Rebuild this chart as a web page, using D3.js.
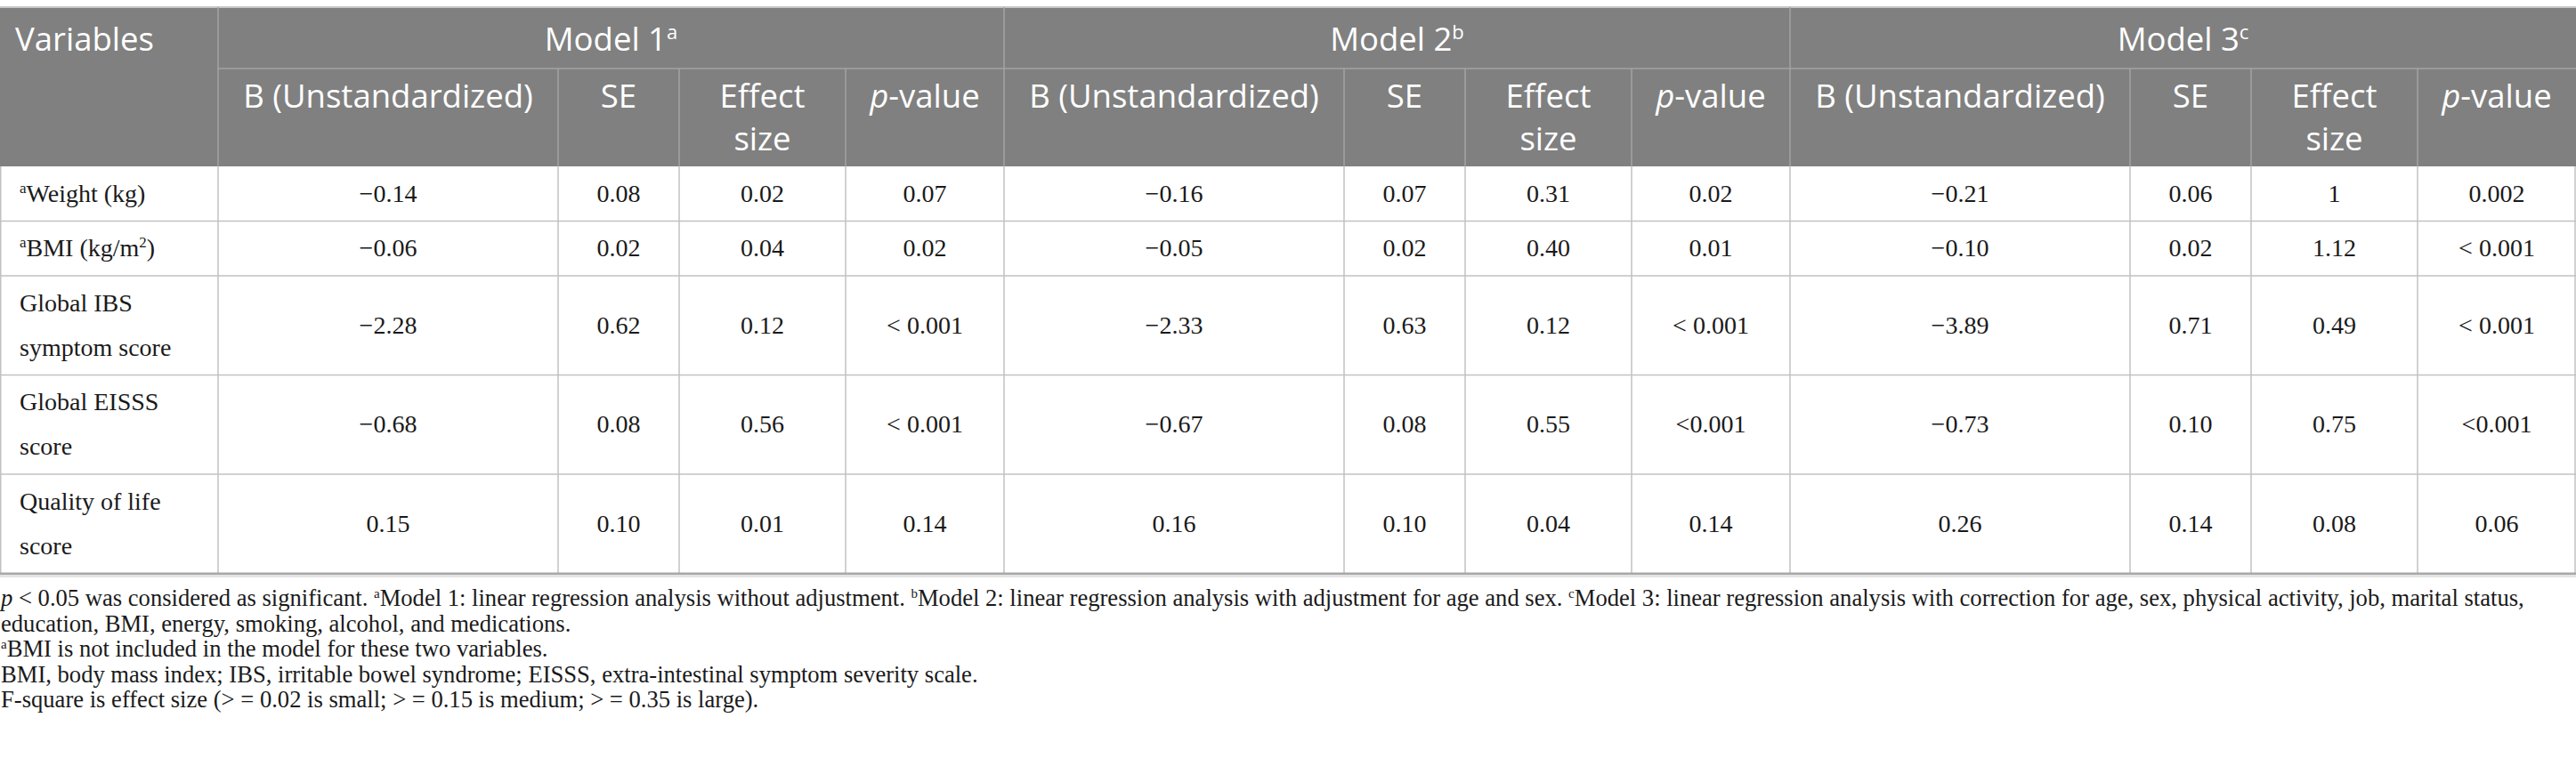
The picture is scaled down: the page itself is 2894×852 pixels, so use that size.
<!DOCTYPE html>
<html>
<head>
<meta charset="utf-8">
<script src="https://cdn.jsdelivr.net/npm/d3@7"></script>
<style>
  body { margin: 0; background: #fff; }
  svg { display: block; }
</style>
</head>
<body>
<div id="chart-area"></div>
<script>
// table content
var models = ["Model 1", "Model 2", "Model 3"];
var modelSup = ["a", "b", "c"];
var subHeads = [["B (Unstandardized)"], ["SE"], ["Effect", "size"], ["p-value"]];

var variables = [["Weight (kg)"], ["BMI (kg/m", "2", ")"], ["Global IBS", "symptom score"], ["Global EISSS", "score"], ["Quality of life", "score"]];
var varSup = ["a", "a", "", "", ""];
var varLines = [1, 1, 2, 2, 2];

var model1B = ["−0.14", "−0.06", "−2.28", "−0.68", "0.15"];
var model1SE = ["0.08", "0.02", "0.62", "0.08", "0.10"];
var model1ES = ["0.02", "0.04", "0.12", "0.56", "0.01"];
var model1P = ["0.07", "0.02", "< 0.001", "< 0.001", "0.14"];

var model2B = ["−0.16", "−0.05", "−2.33", "−0.67", "0.16"];
var model2SE = ["0.07", "0.02", "0.63", "0.08", "0.10"];
var model2ES = ["0.31", "0.40", "0.12", "0.55", "0.04"];
var model2P = ["0.02", "0.01", "< 0.001", "<0.001", "0.14"];

var model3B = ["−0.21", "−0.10", "−3.89", "−0.73", "0.26"];
var model3SE = ["0.06", "0.02", "0.71", "0.10", "0.14"];
var model3ES = ["1", "1.12", "0.49", "0.75", "0.08"];
var model3P = ["0.002", "< 0.001", "< 0.001", "<0.001", "0.06"];

var footnotes = [
	[{t: "p", i: true}, {t: " < 0.05 was considered as significant. "}, {t: "a", s: true}, {t: "Model 1: linear regression analysis without adjustment. "}, {t: "b", s: true}, {t: "Model 2: linear regression analysis with adjustment for age and sex. "}, {t: "c", s: true}, {t: "Model 3: linear regression analysis with correction for age, sex, physical activity, job, marital status,"}],
	[{t: "education, BMI, energy, smoking, alcohol, and medications."}],
	[{t: "a", s: true}, {t: "BMI is not included in the model for these two variables."}],
	[{t: "BMI, body mass index; IBS, irritable bowel syndrome; EISSS, extra-intestinal symptom severity scale."}],
	[{t: "F-square is effect size (> = 0.02 is small; > = 0.15 is medium; > = 0.35 is large)."}]
];

var cells = [
	[model1B, model1SE, model1ES, model1P],
	[model2B, model2SE, model2ES, model2P],
	[model3B, model3SE, model3ES, model3P]
];

// layout
var width = 2894, height = 852;
var varW = 245;
var subW = [382, 136, 187, 178];
var modelW = d3.sum(subW);
var top0 = 8, head1 = 77, head2 = 187;
var lineH = 50, oneRow = 61.5, twoRow = 111.5;

var headBg = "#808080", headLine = "#a3a3a3", bodyLine = "#c2c2c2";
var sansFont = "'Open Sans', 'Noto Sans', sans-serif";
var serifFont = "'Liberation Serif', 'DejaVu Serif', serif";

var xModel = d3.scaleBand().domain(models).range([varW, varW + modelW * 3]).paddingInner(0).paddingOuter(0);
var subEdges = [0].concat(Array.from(d3.cumsum(subW)));

var rowH = varLines.map(function(n) { return n > 1 ? twoRow : oneRow; });
var rowY = [head2].concat(Array.from(d3.cumsum(rowH)).map(function(v) { return head2 + v; }));
var yRow = d3.scaleOrdinal().domain(d3.range(variables.length)).range(rowY.slice(0, -1));
var tableBottom = rowY[rowY.length - 1];

var svg = d3.select("#chart-area").append("svg")
	.attr("width", width)
	.attr("height", height);

// header background
svg.append("rect")
	.attr("x", 0).attr("y", top0)
	.attr("width", width).attr("height", head2 - top0)
	.attr("fill", headBg);

svg.append("line")
	.attr("x1", 0).attr("x2", width)
	.attr("y1", top0).attr("y2", top0)
	.attr("stroke", "#c8c8c8").attr("stroke-width", 2);

// header grid
var hg = svg.append("g").attr("stroke", headLine).attr("stroke-width", 1.5);
hg.append("line").attr("x1", varW).attr("x2", width).attr("y1", head1).attr("y2", head1);
models.forEach(function(m) {
	var x0 = xModel(m);
	hg.append("line").attr("x1", x0).attr("x2", x0).attr("y1", top0).attr("y2", head2);
	subEdges.slice(1, -1).forEach(function(e) {
		hg.append("line").attr("x1", x0 + e).attr("x2", x0 + e).attr("y1", head1).attr("y2", head2);
	});
});

// header text
var ht = svg.append("g")
	.attr("font-family", sansFont)
	.attr("font-size", "36.5px")
	.attr("fill", "#fff");

ht.append("text").attr("x", 17).attr("y", 57).text("Variables");

models.forEach(function(m, i) {
	var t = ht.append("text")
		.attr("x", xModel(m) + modelW / 2)
		.attr("y", 57)
		.attr("text-anchor", "middle");
	t.append("tspan").text(m);
	t.append("tspan").attr("font-size", "22px").attr("dy", -13).text(modelSup[i]);

	subHeads.forEach(function(lines, j) {
		var cx = xModel(m) + (subEdges[j] + subEdges[j + 1]) / 2;
		lines.forEach(function(l, k) {
			var tt = ht.append("text")
				.attr("x", cx)
				.attr("y", 121 + k * 48)
				.attr("text-anchor", "middle");
			if (l === "p-value") {
				tt.append("tspan").attr("font-style", "italic").text("p");
				tt.append("tspan").text("-value");
			} else {
				tt.text(l);
			}
		});
	});
});

// body grid
var bg = svg.append("g").attr("stroke", bodyLine).attr("stroke-width", 1.5);
rowY.slice(1, -1).forEach(function(y) {
	bg.append("line").attr("x1", 0).attr("x2", width).attr("y1", y).attr("y2", y);
});
var vEdges = [0.75, varW];
models.forEach(function(m) {
	subEdges.slice(1).forEach(function(e) { vEdges.push(xModel(m) + e); });
});
vEdges[vEdges.length - 1] = width - 1;
vEdges.forEach(function(x) {
	bg.append("line").attr("x1", x).attr("x2", x).attr("y1", head2).attr("y2", tableBottom);
});

// bottom rule
svg.append("rect")
	.attr("x", 0).attr("y", tableBottom - 1)
	.attr("width", width).attr("height", 2.5)
	.attr("fill", "#a8a8a8");
svg.append("rect")
	.attr("x", 0).attr("y", tableBottom + 1.5)
	.attr("width", width).attr("height", 3)
	.attr("fill", "#e4e4e4");

// body text
var bt = svg.append("g")
	.attr("font-family", serifFont)
	.attr("font-size", "28px")
	.attr("fill", "#1a1a1a");

variables.forEach(function(v, r) {
	var cy = yRow(r) + rowH[r] / 2;
	if (varLines[r] === 1) {
		var t = bt.append("text").attr("x", 22).attr("y", cy + 9);
		if (varSup[r]) t.append("tspan").attr("font-size", "17px").attr("dy", -10).text(varSup[r]);
		t.append("tspan").attr("dy", varSup[r] ? 10 : 0).text(v[0]);
		if (v.length > 1) {
			t.append("tspan").attr("font-size", "17px").attr("dy", -10).text(v[1]);
			t.append("tspan").attr("dy", 10).text(v[2]);
		}
	} else {
		v.forEach(function(l, k) {
			bt.append("text")
				.attr("x", 22)
				.attr("y", cy + 9 + (k - 0.5) * lineH)
				.text(l);
		});
	}

	models.forEach(function(m, i) {
		cells[i].forEach(function(col, j) {
			bt.append("text")
				.attr("x", xModel(m) + (subEdges[j] + subEdges[j + 1]) / 2)
				.attr("y", cy + 9)
				.attr("text-anchor", "middle")
				.text(col[r]);
		});
	});
});

// footnotes
var ft = svg.append("g")
	.attr("font-family", serifFont)
	.attr("font-size", "26.6px")
	.attr("fill", "#1a1a1a");

footnotes.forEach(function(parts, i) {
	var t = ft.append("text").attr("x", 1).attr("y", 681 + i * 28.6);
	var up = false;
	parts.forEach(function(p) {
		var ts = t.append("tspan").text(p.t);
		if (p.i) ts.attr("font-style", "italic");
		if (p.s) {
			ts.attr("font-size", "15px").attr("dy", -9);
			up = true;
		} else if (up) {
			ts.attr("dy", 9);
			up = false;
		}
	});
});
</script>
</body>
</html>
